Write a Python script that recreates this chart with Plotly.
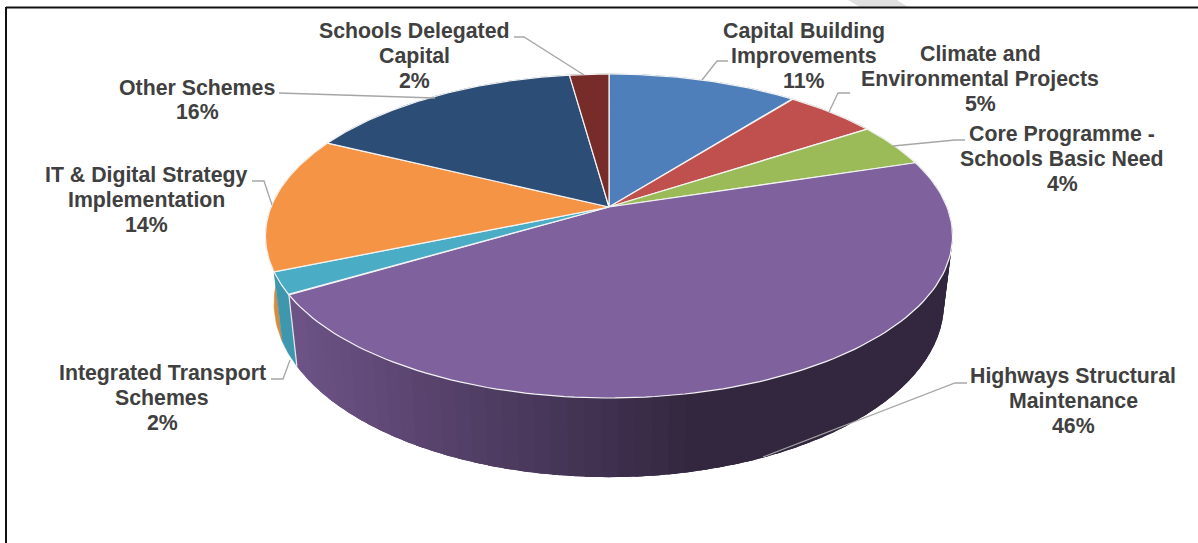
import numpy as np
import plotly.graph_objects as go

categories = ["Capital Building<br>Improvements", "Climate and<br>Environmental Projects",
              "Core Programme -<br>Schools Basic Need", "Highways Structural<br>Maintenance",
              "Integrated Transport<br>Schemes", "IT & Digital Strategy<br>Implementation",
              "Other Schemes", "Schools Delegated<br>Capital"]
values = [10.6, 5.2, 4.4, 46.3, 2.2, 13.55, 15.55, 2.2]
colors = ["#4f7fbb", "#c0504d", "#9bbb59", "#7f619e", "#4bacc6", "#f59445", "#2c4d75", "#772c2a"]
side_colors = ["#3f6797", "#99403d", "#7c9547", "#6d5286", "#3f97ae", "#d98a3c", "#233e5e", "#5f2322"]

label_pos = [(804, 56), (980, 79), (1062, 159), (1073, 401), (162, 398), (146, 200), (197, 100), (414, 56)]
leaders = [[(702, 80), (717, 61), (728, 61)],
           [(829, 112), (838, 93), (850, 93)],
           [(893, 146), (955, 140), (965, 140)],
           [(763, 457), (955, 383), (967, 383)],
           [(290, 360), (283, 379), (271, 379)],
           [(272, 205), (264, 181), (252, 181)],
           [(279, 93), (435, 98)],
           [(514, 37), (524, 37), (584, 75)]]

# projection of the pie disc (pixel coordinates)
CX, CY, R, S, K = 609.0, 207.0, 338.0, 156.8, 0.179
DEPTH, SHRINK = 65.0, 0.975
LINE_GAP = 24.8


def top(theta):
    u, v = np.sin(theta), -np.cos(theta)
    w = 1 - K * v
    return CX + R * u / w, CY + S * v / w


def bottom(theta):
    x, y = top(theta)
    v = -np.cos(theta)
    return CX + (x - CX) * SHRINK, y + DEPTH / (1 - K * v)


def mix(a, b, t):
    ca = [int(a[i:i + 2], 16) for i in (1, 3, 5)]
    cb = [int(b[i:i + 2], 16) for i in (1, 3, 5)]
    return "rgb(%d,%d,%d)" % tuple(round(p + (q - p) * t) for p, q in zip(ca, cb))


cum = np.concatenate([[0], np.cumsum(values)]) / sum(values) * 2 * np.pi
fig = go.Figure()


def poly(xs, ys, fill, line=None, width=1.0):
    fig.add_trace(go.Scatter(x=list(xs), y=list(ys), mode="lines", fill="toself", fillcolor=fill,
                             line=dict(color=line or fill, width=width), hoverinfo="skip", showlegend=False))


# sides, back to front
for i in [0, 1, 2, 7, 6, 5, 4]:
    th = np.linspace(cum[i], cum[i + 1], 40)
    xt, yt = top(th)
    xb, yb = bottom(th)
    poly(np.r_[xt, xb[::-1]], np.r_[yt, yb[::-1]], side_colors[i], width=0.5)

# highways side: shaded strips, each reaching under the next so no seams show
i = 3
edges = np.linspace(cum[i], cum[i + 1], 71)
step = edges[1] - edges[0]
for a in edges[:-1][::-1]:
    th = np.linspace(a, min(a + 2.5 * step, cum[i + 1]), 6)
    xt, yt = top(th)
    xb, yb = bottom(th)
    mid = bottom(a + step / 2)[0]
    t = np.clip((mid - 297) / (720 - 297), 0, 1)
    col = mix("#6f5489", "#32273f", t)
    poly(np.r_[xt, xb[::-1]], np.r_[yt, yb[::-1]], col, width=0)

# white edge between teal and purple sides
xt, yt = top(cum[4])
xb, yb = bottom(cum[4])
fig.add_trace(go.Scatter(x=[xt, xb], y=[yt, yb], mode="lines", line=dict(color="#e8e8f0", width=1.2),
                         hoverinfo="skip", showlegend=False))

# top faces
for i in range(len(values)):
    th = np.linspace(cum[i], cum[i + 1], 120)
    xt, yt = top(th)
    poly(np.r_[CX, xt, CX], np.r_[CY, yt, CY], colors[i], line="#f4f4f4", width=1.2)

# leader lines
for pts in leaders:
    fig.add_trace(go.Scatter(x=[p[0] for p in pts], y=[p[1] for p in pts], mode="lines",
                             line=dict(color="#a6a6a6", width=1.3), hoverinfo="skip", showlegend=False))

for name, v, (x, y) in zip(categories, values, label_pos):
    lines = name.split("<br>") + [f"{v:.0f}%"]
    for j, line in enumerate(lines):
        fig.add_annotation(x=x, y=y + (j - (len(lines) - 1) / 2) * LINE_GAP, text=f"<b>{line}</b>",
                           showarrow=False, xanchor="center", yanchor="middle", align="center",
                           font=dict(family="Liberation Sans", size=21.3, color="#404040"))

# frame and the fragment of background mark above it
fig.add_shape(type="path", path="M848,0 L897,0 L908,7 L860,7 Z", fillcolor="#e0e0e0", line_width=0, layer="below")
fig.add_shape(type="line", x0=6, x1=1198, y0=7.5, y1=7.5, line=dict(color="#111111", width=2))
fig.add_shape(type="line", x0=6, x1=6, y0=7, y1=543, line=dict(color="#111111", width=2))

fig.update_layout(width=1198, height=543, margin=dict(l=0, r=0, t=0, b=0), autosize=False,
                  paper_bgcolor="white", plot_bgcolor="white", showlegend=False,
                  xaxis=dict(range=[0, 1198], visible=False, fixedrange=True),
                  yaxis=dict(range=[543, 0], visible=False, fixedrange=True))
fig.write_html("out.html", config=dict(displayModeBar=False),
               post_script="document.body.style.margin='0';document.body.style.overflow='hidden';")
